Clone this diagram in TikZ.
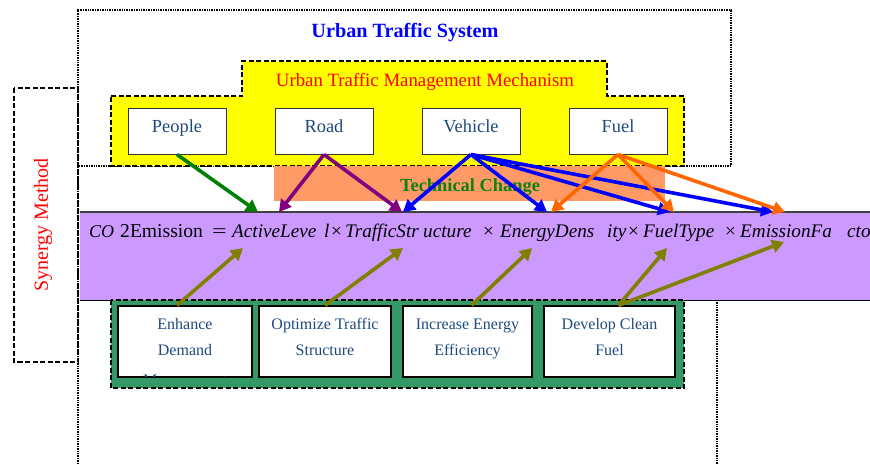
\documentclass[tikz,border=0pt]{standalone}
\usepackage{fontspec}
\usepackage{graphicx}
\setmainfont{Liberation Serif}
\usetikzlibrary{arrows.meta}
\definecolor{ttblue}{HTML}{0000FF}
\definecolor{nodetext}{HTML}{1F497D}
\definecolor{mechyellow}{HTML}{FFFF00}
\definecolor{techorange}{HTML}{FF9966}
\definecolor{barpurple}{HTML}{CC99FF}
\definecolor{boxgreen}{HTML}{339966}
\definecolor{arrgreen}{HTML}{008000}
\definecolor{arrpurple}{HTML}{800080}
\definecolor{arrblue}{HTML}{0000FF}
\definecolor{arrorange}{HTML}{FF6600}
\definecolor{arrolive}{HTML}{808000}
\definecolor{techgreen}{HTML}{108010}
\tikzset{
  dashedborder/.style={draw=black,line width=1.4pt,dash pattern=on 5pt off 2.5pt},
  dottedborder/.style={draw=black,line width=1.6pt,dash pattern=on 1pt off 0.7pt},
  topnode/.style={draw=black!80,line width=1pt,fill=white,minimum width=98pt,minimum height=46pt,inner sep=0pt,
    text=nodetext,font=\fontsize{18.4}{21}\selectfont,text height=12pt,text depth=10pt},
  lowbox/.style={draw=black,line width=1.3pt,fill=white,inner sep=0pt,minimum height=71pt},
  lowtext/.style={anchor=base,inner sep=0pt,text=nodetext,font=\fontsize{16}{19}\selectfont},
  fpiece/.style={anchor=base west,inner sep=0pt,font=\fontsize{19.2}{22}\selectfont},
  bigarrow/.style={line width=3.6pt,-{Triangle[length=12pt,width=13pt]}},
}
\begin{document}
\begin{tikzpicture}[x=1pt,y=-1pt]
\useasboundingbox (0,0) rectangle (870,464);
\clip (0,0) rectangle (870,464);
% urban traffic system box
\draw[dottedborder] (78,464) -- (78,10) -- (731,10) -- (731,166) -- (78,166);
\draw[dottedborder] (717,300) -- (717,464);
\node[anchor=base,inner sep=0pt,text=ttblue,font=\bfseries\fontsize{20.2}{23}\selectfont] (title) at (405,37) {Urban Traffic System};
% synergy box
\draw[dashedborder] (14,88) rectangle (78,362);
\node[rotate=90,inner sep=0pt,text=red,font=\fontsize{20}{22}\selectfont] (synergy) at (43,225) {Synergy Method};
% management mechanism
\draw[dashedborder,fill=mechyellow] (111,96) -- (242,96) -- (242,61) -- (607,61) -- (607,96) -- (684,96) -- (684,166) -- (111,166) -- cycle;
\node[anchor=base,inner sep=0pt,text=red,font=\fontsize{18.8}{21}\selectfont] (mech) at (425,86) {Urban Traffic Management Mechanism};
\node[topnode] (people) at (177,131) {People};
\node[topnode] (road) at (324,131) {Road};
\node[topnode] (vehicle) at (471,131) {Vehicle};
\node[topnode] (fuel) at (618,131) {Fuel};
% technical change
\fill[techorange] (274,166) rectangle (665,201);
\node[anchor=base,inner sep=0pt,text=techgreen,font=\bfseries\fontsize{18.4}{21}\selectfont] (tech) at (470,191) {Technical Change};
% purple formula bar
\fill[barpurple] (80,212) rectangle (870,300);
\draw[black!75,line width=1.5pt] (80,212) -- (870,212);
\draw[black,line width=1pt] (80,300) -- (870,300);
\node[fpiece,font=\fontsize{18}{21}\selectfont] (f1) at (89,237) {\itshape CO};
\node[fpiece,font=\fontsize{19.6}{22}\selectfont] (f2) at (120,237) {2Emission};
\node[fpiece] (f3) at (212,237) {\scalebox{1.35}[1]{=}};
\node[fpiece] (f4) at (232,237) {\itshape ActiveLeve};
\node[fpiece] (f5) at (324,237) {\itshape l};
\node[fpiece] (f6) at (331,237) {×};
\node[fpiece] (f7) at (345,237) {\itshape TrafficStr};
\node[fpiece] (f8) at (423,237) {\itshape ucture};
\node[fpiece] (f9) at (483,237) {×};
\node[fpiece] (f10) at (500,237) {\itshape EnergyDens};
\node[fpiece] (f11) at (607,237) {\itshape ity};
\node[fpiece] (f12) at (628,237) {×};
\node[fpiece] (f13) at (643,237) {\itshape FuelType};
\node[fpiece] (f14) at (725,237) {×};
\node[fpiece] (f15) at (740,237) {\itshape EmissionFa};
\node[fpiece] (f16) at (847,237) {\itshape ctor};
% green box
\draw[dashedborder,fill=boxgreen] (111,300) rectangle (684,388);
\node[lowbox,minimum width=134pt] (enh) at (185,341.5) {};
\node[lowbox,minimum width=132pt] (opt) at (325,341.5) {};
\node[lowbox,minimum width=129pt] (inc) at (467.5,341.5) {};
\node[lowbox,minimum width=131pt] (dev) at (609.5,341.5) {};
\node[lowtext] (enh1) at (185,329) {Enhance};
\node[lowtext] (enh2) at (185,355) {Demand};
\begin{scope}
\clip (119,307) rectangle (251,376);
\node[lowtext] (enh3) at (185,385) {Management};
\end{scope}
\node[lowtext] (opt1) at (325,329) {Optimize Traffic};
\node[lowtext] (opt2) at (325,355) {Structure};
\node[lowtext] (inc1) at (467.5,329) {Increase Energy};
\node[lowtext] (inc2) at (467.5,355) {Efficiency};
\node[lowtext] (dev1) at (609.5,329) {Develop Clean};
\node[lowtext] (dev2) at (609.5,355) {Fuel};
% target coordinates
\coordinate (tP) at (258,212);
\coordinate (tR1) at (279,212);
\coordinate (tR2) at (402,212);
\coordinate (tV1) at (403,212);
\coordinate (tV2) at (547,212);
\coordinate (tV3) at (670,212);
\coordinate (tV4) at (773,212);
\coordinate (tF1) at (551,212);
\coordinate (tF2) at (674,212);
\coordinate (tF3) at (785,212);
\coordinate (oE) at (243,248);
\coordinate (oO) at (403,248);
\coordinate (oI) at (532,248);
\coordinate (oD1) at (667,248);
\coordinate (oD2) at (784,242);
% arrows
\draw[bigarrow,arrgreen] (people.south) -- (tP);
\draw[bigarrow,arrpurple] (road.south) -- (tR1);
\draw[bigarrow,arrpurple] (road.south) -- (tR2);
\draw[bigarrow,arrblue] (vehicle.south) -- (tV1);
\draw[bigarrow,arrblue] (vehicle.south) -- (tV2);
\draw[bigarrow,arrblue] (vehicle.south) -- (tV3);
\draw[bigarrow,arrblue] (vehicle.south) -- (tV4);
\draw[bigarrow,arrorange] (fuel.south) -- (tF1);
\draw[bigarrow,arrorange] (fuel.south) -- (tF2);
\draw[bigarrow,arrorange] (fuel.south) -- (tF3);
\draw[bigarrow,arrolive] ([xshift=-8pt]enh.north) -- (oE);
\draw[bigarrow,arrolive] (opt.north) -- (oO);
\draw[bigarrow,arrolive] ([xshift=4pt]inc.north) -- (oI);
\draw[bigarrow,arrolive] ([xshift=9pt]dev.north) -- (oD1);
\draw[bigarrow,arrolive] ([xshift=9pt]dev.north) -- (oD2);
\end{tikzpicture}
\end{document}
